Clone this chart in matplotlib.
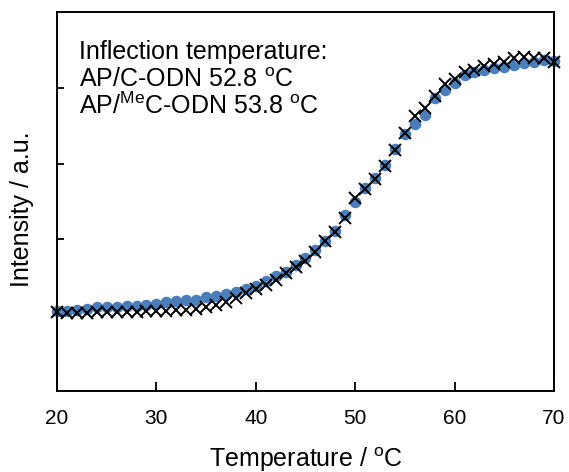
import numpy as np
import matplotlib
matplotlib.use('Agg')
import matplotlib.pyplot as plt

plt.rcParams['font.family'] = 'Liberation Sans'
plt.rcParams['mathtext.fontset'] = 'custom'
plt.rcParams['mathtext.rm'] = 'Liberation Sans'
plt.rcParams['mathtext.it'] = 'Liberation Sans'

# Temperature (degC), 1 degree steps
temp = np.arange(20, 71)

# AP/C-ODN (blue circles), arbitrary units
ap_c = [1.049, 1.055, 1.069, 1.082, 1.102, 1.108, 1.108, 1.115, 1.121, 1.141,
        1.154, 1.174, 1.187, 1.207, 1.207, 1.240, 1.253, 1.280, 1.306, 1.346,
        1.385, 1.451, 1.511, 1.570, 1.662, 1.761, 1.860, 1.979, 2.111, 2.322,
        2.493, 2.678, 2.810, 2.982, 3.193, 3.391, 3.522, 3.641, 3.865, 3.971,
        4.063, 4.169, 4.208, 4.235, 4.261, 4.274, 4.301, 4.327, 4.340, 4.367,
        4.354]

# AP/MeC-ODN (black crosses)
ap_mec = [1.042, 1.029, 1.029, 1.029, 1.036, 1.036, 1.036, 1.042, 1.042, 1.049,
          1.055, 1.062, 1.069, 1.075, 1.088, 1.108, 1.135, 1.174, 1.227, 1.293,
          1.346, 1.398, 1.464, 1.557, 1.636, 1.715, 1.834, 1.979, 2.098, 2.282,
          2.546, 2.665, 2.797, 2.968, 3.179, 3.404, 3.628, 3.734, 3.892, 4.050,
          4.116, 4.208, 4.235, 4.288, 4.314, 4.340, 4.393, 4.406, 4.393, 4.393,
          4.340]

fig = plt.figure(figsize=(5.69, 4.72), dpi=100)
ax = fig.add_axes([0.1002, 0.1716, 0.8734, 0.803])

ax.plot(temp, ap_c, 'o', color='#4a7ebb', markersize=8.3, markeredgewidth=0,
        clip_on=False, zorder=2)
ax.plot(temp, ap_mec, 'x', color='black', markersize=8, markeredgewidth=1.4,
        clip_on=False, zorder=3)

ax.set_xlim(20, 70)
ax.set_ylim(0, 5)
ax.set_xticks([20, 30, 40, 50, 60, 70])
ax.set_yticks([1, 2, 3, 4])
ax.set_yticklabels([])
ax.tick_params(direction='in', length=6.5, width=1.3, labelsize=15, pad=13)
ax.tick_params(axis='y', length=5)
for sp in ax.spines.values():
    sp.set_linewidth(1.4)

ax.set_xlabel('Temperature / $^{\\mathrm{o}}$C', fontsize=18)
ax.set_ylabel('Intensity / a.u.', fontsize=18)
ax.xaxis.set_label_coords(0.5, -0.18)
ax.yaxis.set_label_coords(-0.07, 0.48)
ax.xaxis.label.set_va('center')
ax.yaxis.label.set_va('center')

tx = 0.045
ax.text(tx, 0.876, 'Inflection temperature:', transform=ax.transAxes,
        fontsize=18, va='baseline')
ax.text(tx, 0.803, 'AP/C-ODN 52.8 $^{\\mathrm{o}}$C', transform=ax.transAxes,
        fontsize=18, va='baseline')
ax.text(tx, 0.731, 'AP/$^{\\mathrm{Me}}$C-ODN 53.8 $^{\\mathrm{o}}$C',
        transform=ax.transAxes, fontsize=18, va='baseline')

fig.savefig('out.png', dpi=100)
